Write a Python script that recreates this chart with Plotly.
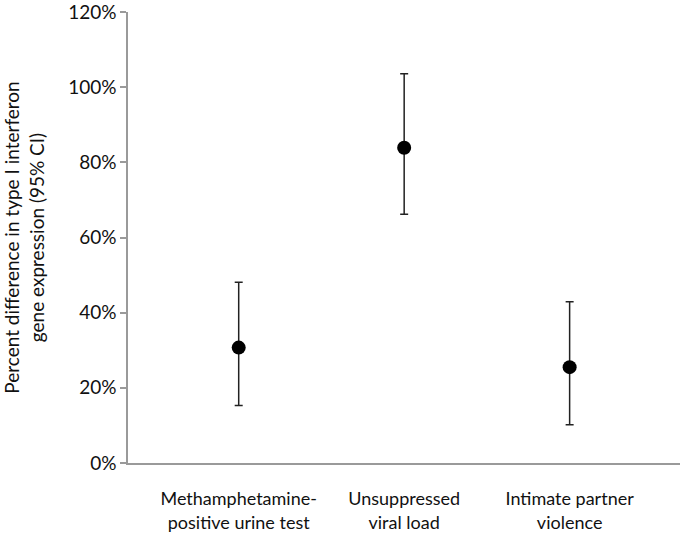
import plotly.graph_objects as go

# values (fractions, shown as %)
categories = [
    "Methamphetamine-<br>positive urine test",
    "Unsuppressed<br>viral load",
    "Intimate partner<br>violence",
]
estimate = [0.307, 0.839, 0.255]
ci_lower = [0.153, 0.662, 0.102]
ci_upper = [0.481, 1.036, 0.429]
positions = [1, 2, 3]
y_ticks = [0, 0.2, 0.4, 0.6, 0.8, 1.0, 1.2]
y_ticktext = ["0%", "20%", "40%", "60%", "80%", "100%", "120%"]

err_plus = [u - e for u, e in zip(ci_upper, estimate)]
err_minus = [e - l for e, l in zip(estimate, ci_lower)]

FONT = "Lato, Carlito, Calibri, sans-serif"

fig = go.Figure()

fig.add_trace(go.Scatter(
    x=positions,
    y=estimate,
    mode="markers",
    marker=dict(color="black", size=14),
    error_y=dict(
        type="data",
        symmetric=False,
        array=err_plus,
        arrayminus=err_minus,
        color="#222222",
        thickness=1.5,
        width=4,
    ),
    showlegend=False,
    cliponaxis=False,
))

fig.update_layout(
    width=680,
    height=537,
    margin=dict(l=128, r=0, t=12, b=74),
    paper_bgcolor="white",
    plot_bgcolor="white",
    font=dict(family=FONT, size=19, color="#111111"),
    xaxis=dict(
        range=[0.331, 3.667],
        tickvals=positions,
        ticktext=categories,
        tickfont=dict(size=18),
        showgrid=False,
        zeroline=False,
        showline=True,
        linecolor="#9a9a9a",
        linewidth=1.5,
        ticks="",
        ticklabelstandoff=19,
        automargin=False,
    ),
    yaxis=dict(
        range=[0, 1.2],
        tickvals=y_ticks,
        ticktext=y_ticktext,
        ticklabeloverflow="allow",
        showgrid=False,
        zeroline=False,
        showline=True,
        linecolor="#9a9a9a",
        linewidth=1.5,
        ticks="outside",
        ticklen=6,
        tickcolor="#9a9a9a",
        tickwidth=1.5,
        automargin=False,
        title=dict(
            text="Percent difference in type I interferon<br>gene expression (95% CI)",
            font=dict(size=19),
            standoff=23,
        ),
    ),
)

# the page's default body margin shifts the figure; drop it
fig.write_html(
    "out.html",
    config={"displayModeBar": False},
    post_script="document.body.style.margin='0';",
)
